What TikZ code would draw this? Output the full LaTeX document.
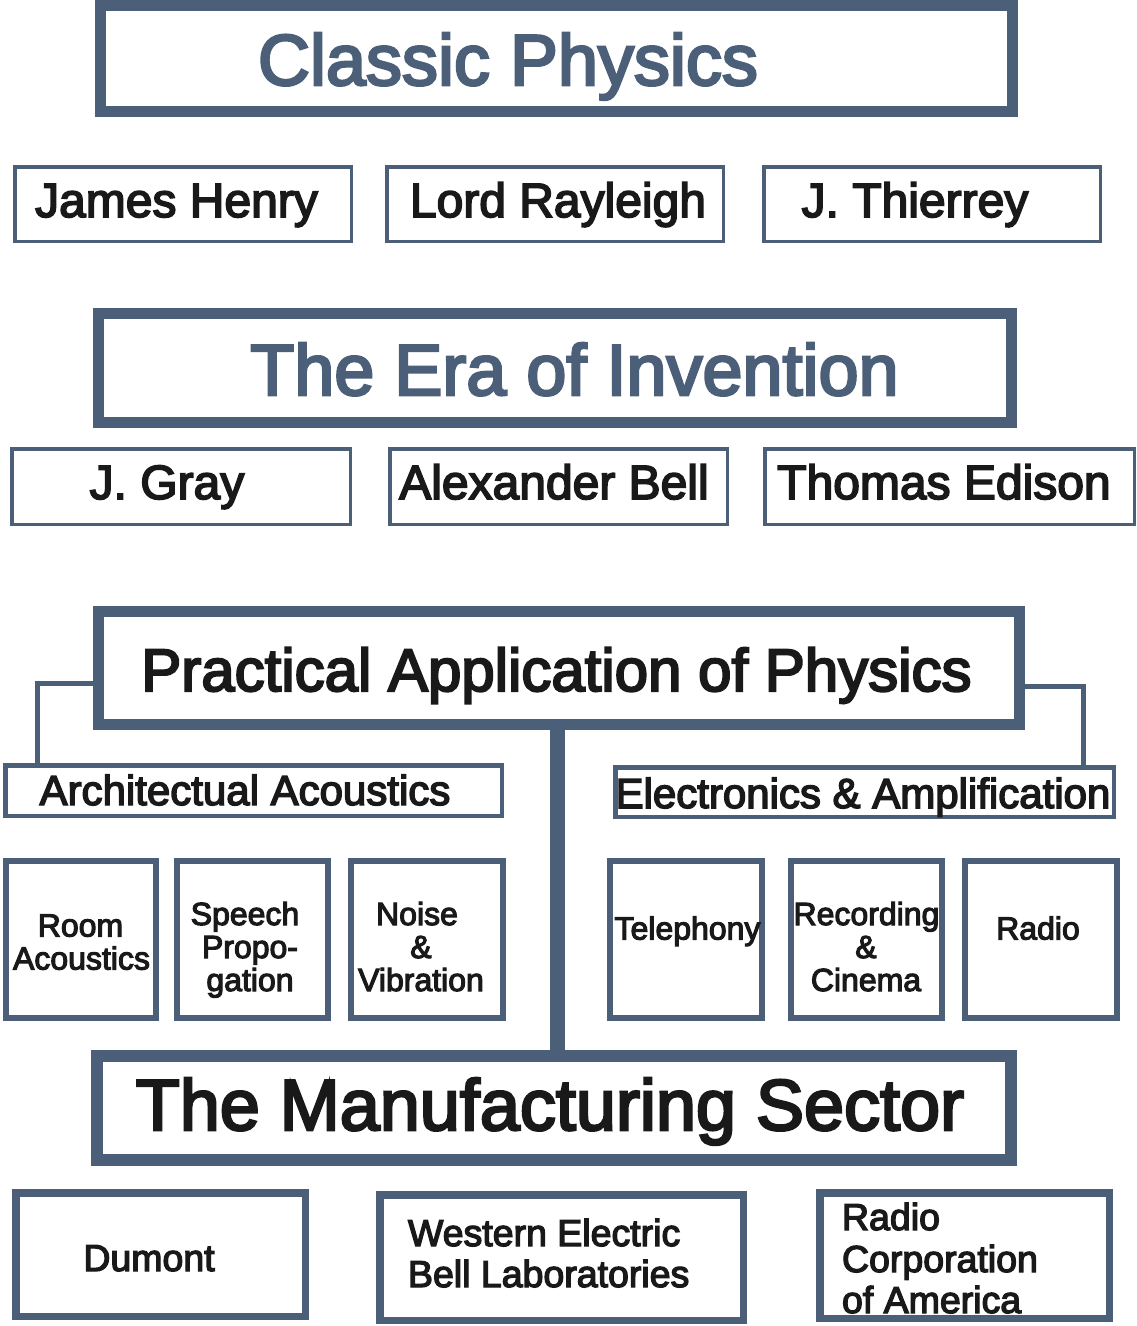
\documentclass[tikz,border=0pt]{standalone}
\usepackage{fontspec}
\setmainfont{Liberation Sans}[FakeBold=3.5]
\definecolor{slate}{RGB}{75,95,120}
\definecolor{ink}{RGB}{25,25,25}
\tikzset{
  frame/.style={draw=slate, fill=white, rectangle, inner sep=0pt, outer sep=0pt},
  bigbox/.style={frame, line width=11pt},
  namebox/.style={frame, line width=3.5pt},
  subbox/.style={frame, line width=4.5pt},
  leafbox/.style={frame, line width=6pt},
  corpbox/.style={frame, line width=7.5pt},
  conn/.style={draw=slate, line width=5pt},
  trunk/.style={draw=slate, line width=15pt},
  txt/.style={anchor=base, inner sep=0pt, outer sep=0pt, text=ink},
  ttl/.style={txt, text=slate, font=\fontsize{72}{80}\selectfont},
  bigttl/.style={txt, font=\fontsize{72}{80}\selectfont},
  prttl/.style={txt, font=\fontsize{60}{70}\selectfont},
  nametxt/.style={txt, font=\fontsize{48}{56}\selectfont},
  subtxt/.style={txt, font=\fontsize{42}{48}\selectfont},
  leaftxt/.style={txt, font=\fontsize{32}{36}\selectfont},
  corptxt/.style={txt, anchor=base west, font=\fontsize{37.5}{42}\selectfont},
}
\begin{document}
\begin{tikzpicture}[x=1pt, y=-1pt]
\useasboundingbox (0,0) rectangle (1137,1326);

% Classic physics
\node[bigbox, minimum width=912pt, minimum height=106pt] (classic) at (556.5,58.5) {};
\node[ttl] (classic-t) at (508,85) {Classic Physics};
\node[namebox, minimum width=336.5pt, minimum height=74.5pt] (henry) at (183,204) {};
\node[nametxt] (henry-t) at (176.5,217) {James Henry};
\node[namebox, minimum width=336.5pt, minimum height=74.5pt] (rayleigh) at (555,204) {};
\node[nametxt] (rayleigh-t) at (558,217) {Lord Rayleigh};
\node[namebox, minimum width=336.5pt, minimum height=74.5pt] (thierrey) at (932,204) {};
\node[nametxt] (thierrey-t) at (915,217) {J. Thierrey};

% Era of invention
\node[bigbox, minimum width=913pt, minimum height=109pt] (era) at (555,368) {};
\node[ttl] (era-t) at (574.5,395) {The Era of Invention};
\node[namebox, minimum width=338.5pt, minimum height=75.5pt] (gray) at (181,486.5) {};
\node[nametxt] (gray-t) at (167,499) {J. Gray};
\node[namebox, minimum width=337.5pt, minimum height=75.5pt] (bell) at (558.5,486.5) {};
\node[nametxt] (bell-t) at (554,499) {Alexander Bell};
\node[namebox, minimum width=369.5pt, minimum height=75.5pt] (edison) at (949.5,486.5) {};
\node[nametxt] (edison-t) at (944,499) {Thomas Edison};

% Practical application
\node[bigbox, minimum width=921pt, minimum height=113pt] (practical) at (559,668) {};
\node[prttl] (practical-t) at (556.5,691) {Practical Application of Physics};

\node[subbox, minimum width=496.5pt, minimum height=50.5pt] (arch) at (253.5,790.5) {};
\node[subtxt] (arch-t) at (245,805) {Architectual Acoustics};
\node[subbox, minimum width=498.5pt, minimum height=49.5pt] (elec) at (864.5,792) {};
\node[subtxt] (elec-t) at (863,808) {Electronics \& Amplification};

% connectors
\draw[conn] ([yshift=-15pt]practical.west) -| ([xshift=32pt]arch.north west);
\draw[conn] ([yshift=-18pt]practical.east) -| ([xshift=-30.75pt]elec.north east);

% leaf boxes
\node[leafbox, minimum width=150pt, minimum height=157pt] (room) at (81,939.5) {};
\node[leafbox, minimum width=151pt, minimum height=157pt] (speech) at (252.5,939.5) {};
\node[leafbox, minimum width=152pt, minimum height=157pt] (noise) at (427,939.5) {};
\node[leafbox, minimum width=152pt, minimum height=157pt] (tele) at (686,939.5) {};
\node[leafbox, minimum width=151pt, minimum height=157pt] (record) at (866.5,939.5) {};
\node[leafbox, minimum width=152pt, minimum height=157pt] (radio) at (1041,939.5) {};

\node[leaftxt] (room-t1) at (80.5,936.5) {Room};
\node[leaftxt] (room-t2) at (81.5,969.5) {Acoustics};
\node[leaftxt] (speech-t1) at (245,925) {Speech};
\node[leaftxt] (speech-t2) at (250,958) {Propo-};
\node[leaftxt] (speech-t3) at (250,991) {gation};
\node[leaftxt] (noise-t1) at (417,925) {Noise};
\node[leaftxt] (noise-t2) at (421,958) {\&};
\node[leaftxt] (noise-t3) at (421,991) {Vibration};
\node[leaftxt] (tele-t) at (687.5,939.5) {Telephony};
\node[leaftxt] (record-t1) at (866.5,925) {Recording};
\node[leaftxt] (record-t2) at (866,958) {\&};
\node[leaftxt] (record-t3) at (866,991) {Cinema};
\node[leaftxt] (radio-t) at (1038,939.5) {Radio};

% Manufacturing
\node[bigbox, line width=12pt, minimum width=914pt, minimum height=104pt] (manuf) at (554,1108) {};
\node[bigttl] (manuf-t) at (550,1130) {The Manufacturing Sector};

\draw[trunk] ([xshift=-1.5pt]practical.south) -- ([xshift=-1.5pt]practical.south |- manuf.north);

\node[corpbox, minimum width=289.5pt, minimum height=123.5pt] (dumont) at (160.5,1254.5) {};
\node[txt, font=\fontsize{37.5}{42}\selectfont] (dumont-t) at (149,1271) {Dumont};
\node[corpbox, minimum width=363.5pt, minimum height=125.5pt] (western) at (561.5,1257.5) {};
\node[corptxt] (western-t1) at (408,1246) {Western Electric};
\node[corptxt] (western-t2) at (408,1287) {Bell Laboratories};
\node[corpbox, minimum width=289.5pt, minimum height=125.5pt] (rca) at (964.5,1255.5) {};
\node[corptxt] (rca-t1) at (842,1230) {Radio};
\node[corptxt] (rca-t2) at (842,1272) {Corporation};
\node[corptxt] (rca-t3) at (842,1313) {of America};
\end{tikzpicture}
\end{document}
